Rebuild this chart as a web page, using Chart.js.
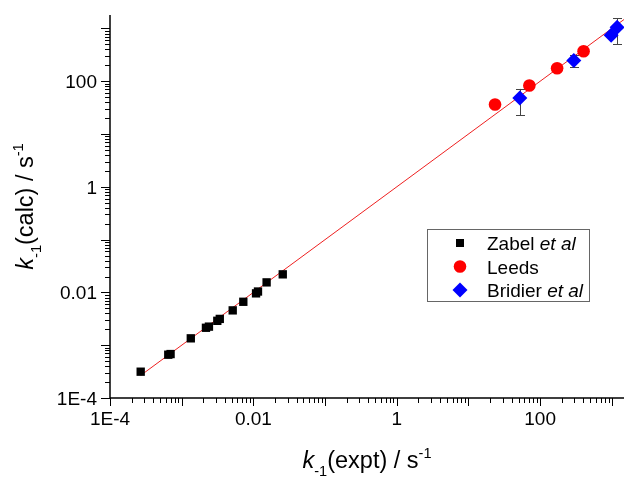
<!DOCTYPE html>
<html lang="en">
<head>
<meta charset="UTF-8">
<title>k-1 calc vs expt</title>
<script src="https://cdn.jsdelivr.net/npm/chart.js"></script>
<style>
  html, body { margin: 0; padding: 0; background: #fff; }
  #caixa { width: 624px; height: 477px; }
</style>
</head>
<body>
<div id="caixa"><canvas id="grafico" width="624" height="477"></canvas></div>

<script>
  // Zabel et al
  const zabelX = [2.68e-4, 6.50e-4, 7.0e-4, 1.34e-3, 2.18e-3, 2.40e-3, 3.14e-3, 3.40e-3, 5.15e-3, 7.24e-3, 0.0109, 0.0116, 0.0153, 0.0257];
  const zabelY = [3.15e-4, 6.61e-4, 6.8e-4, 1.35e-3, 2.14e-3, 2.25e-3, 2.90e-3, 3.15e-3, 4.57e-3, 6.65e-3, 9.60e-3, 0.0104, 0.0155, 0.0220];

  // Leeds
  const leedsX = [23.5, 70.8, 172.6, 404];
  const leedsY = [36.2, 83.0, 176.3, 370];

  // Bridier et al, with error bars
  const bridierX = [52.1, 295, 978, 1186];
  const bridierY = [48.3, 247, 743, 1052];
  const bridierLo = [22.8, 187, 743, 502];
  const bridierHi = [71.6, 320, 743, 1560];

  // y = x
  const fitX = [2.68e-4, 1800];

  const xMin = 1e-4, xMax = 1480;
  const yMin = 1e-4, yMax = 1800;

  const xTickValues = [1e-4, 1e-2, 1, 100];
  const xTickLabels = ['1E-4', '0.01', '1', '100'];
  const yTickValues = [1e-4, 1e-2, 1, 100];
  const yTickLabels = ['1E-4', '0.01', '1', '100'];

  const fonte = '"Liberation Sans", Arial, sans-serif';

  function pontos(xs, ys) {
    return xs.map((x, i) => ({ x: x, y: ys[i] }));
  }

  // text with italic / subscript / superscript pieces
  function medir(ctx, partes, tam) {
    let w = 0;
    partes.forEach(p => {
      const t = p.sub || p.sup ? tam * 0.62 : tam;
      ctx.font = (p.it ? 'italic ' : '') + t + 'px ' + fonte;
      w += ctx.measureText(p.t).width;
    });
    return w;
  }

  function escrever(ctx, partes, x, y, tam) {
    let px = x;
    ctx.textAlign = 'left';
    ctx.textBaseline = 'alphabetic';
    partes.forEach(p => {
      const t = p.sub || p.sup ? tam * 0.62 : tam;
      ctx.font = (p.it ? 'italic ' : '') + t + 'px ' + fonte;
      let dy = 0;
      if (p.sub) dy = tam * 0.32;
      if (p.sup) dy = -tam * 0.42;
      ctx.fillText(p.t, px, y + dy);
      px += ctx.measureText(p.t).width;
    });
  }

  function marcador(ctx, estilo, x, y, cor) {
    ctx.fillStyle = cor;
    ctx.beginPath();
    if (estilo === 'rect') {
      ctx.rect(x - 4, y - 4, 8, 8);
    } else if (estilo === 'circle') {
      ctx.arc(x, y, 6.3, 0, Math.PI * 2);
    } else {
      ctx.moveTo(x - 7.5, y);
      ctx.lineTo(x, y - 7.5);
      ctx.lineTo(x + 7.5, y);
      ctx.lineTo(x, y + 7.5);
      ctx.closePath();
    }
    ctx.fill();
  }

  const desenho = {
    id: 'desenho',
    beforeDatasetsDraw(chart) {
      const ctx = chart.ctx;
      const sx = chart.scales.x, sy = chart.scales.y;
      ctx.save();
      ctx.strokeStyle = '#444';
      ctx.lineWidth = 1;
      for (let i = 0; i < bridierX.length; i++) {
        if (bridierLo[i] === bridierHi[i]) continue;
        const x = Math.round(sx.getPixelForValue(bridierX[i])) + 0.5;
        const y1 = sy.getPixelForValue(bridierLo[i]);
        const y2 = sy.getPixelForValue(bridierHi[i]);
        ctx.beginPath();
        ctx.moveTo(x, y1); ctx.lineTo(x, y2);
        ctx.moveTo(x - 4.5, Math.round(y1) + 0.5); ctx.lineTo(x + 4.5, Math.round(y1) + 0.5);
        ctx.moveTo(x - 4.5, Math.round(y2) + 0.5); ctx.lineTo(x + 4.5, Math.round(y2) + 0.5);
        ctx.stroke();
      }
      ctx.restore();
    },
    afterDraw(chart) {
      const ctx = chart.ctx;
      const a = chart.chartArea;
      const sx = chart.scales.x, sy = chart.scales.y;
      ctx.save();

      // axis lines
      ctx.strokeStyle = '#000';
      ctx.lineWidth = 1.5;
      ctx.beginPath();
      ctx.moveTo(a.left, a.top); ctx.lineTo(a.left, a.bottom);
      ctx.moveTo(a.left, a.bottom); ctx.lineTo(a.right, a.bottom);
      ctx.stroke();

      // ticks, major every decade, minor 2..9
      ctx.lineWidth = 1;
      ctx.beginPath();
      for (let d = -4; d <= 3; d++) {
        for (let k = 1; k <= 9; k++) {
          const v = k * Math.pow(10, d);
          const len = k === 1 ? 8 : 5;
          if (v <= xMax) {
            const x = Math.round(sx.getPixelForValue(v)) + 0.5;
            ctx.moveTo(x, a.bottom); ctx.lineTo(x, a.bottom + len);
          }
          if (v <= yMax) {
            const y = Math.round(sy.getPixelForValue(v)) + 0.5;
            ctx.moveTo(a.left, y); ctx.lineTo(a.left - (k === 1 ? 9 : 5), y);
          }
        }
      }
      ctx.stroke();

      // tick labels
      ctx.fillStyle = '#000';
      ctx.font = '19px ' + fonte;
      ctx.textBaseline = 'alphabetic';
      ctx.textAlign = 'center';
      xTickValues.forEach((v, i) => {
        ctx.fillText(xTickLabels[i], sx.getPixelForValue(v), 425);
      });
      ctx.textAlign = 'right';
      yTickValues.forEach((v, i) => {
        ctx.fillText(yTickLabels[i], 97, sy.getPixelForValue(v) + 7);
      });

      // axis titles
      const tam = 23.5;
      const tituloX = [{ t: 'k', it: true }, { t: '-1', sub: true }, { t: '(expt) / s' }, { t: '-1', sup: true }];
      const tituloY = [{ t: 'k', it: true }, { t: '-1', sub: true }, { t: '(calc) / s' }, { t: '-1', sup: true }];
      const wx = medir(ctx, tituloX, tam);
      escrever(ctx, tituloX, (a.left + a.right) / 2 - wx / 2, 468, tam);
      const wy = medir(ctx, tituloY, tam);
      ctx.save();
      ctx.translate(33, (a.top + a.bottom) / 2);
      ctx.rotate(-Math.PI / 2);
      escrever(ctx, tituloY, -wy / 2, 0, tam);
      ctx.restore();

      // legend
      ctx.fillStyle = '#fff';
      ctx.fillRect(427, 229, 162, 72);
      ctx.strokeStyle = '#666';
      ctx.lineWidth = 1;
      ctx.strokeRect(427.5, 229.5, 162, 72);
      const linhas = [
        { estilo: 'rect', cor: '#000', texto: [{ t: 'Zabel ' }, { t: 'et al', it: true }] },
        { estilo: 'circle', cor: '#ff0000', texto: [{ t: 'Leeds' }] },
        { estilo: 'rectRot', cor: '#0000ff', texto: [{ t: 'Bridier ' }, { t: 'et al', it: true }] }
      ];
      linhas.forEach((l, i) => {
        const y = 243 + i * 23.5;
        marcador(ctx, l.estilo, 460, y, l.cor);
        ctx.fillStyle = '#000';
        escrever(ctx, l.texto, 487, y + 7, 19);
      });

      ctx.restore();
    }
  };

  const config = {
    type: 'scatter',
    data: {
      datasets: [
        {
          label: 'Zabel et al',
          data: pontos(zabelX, zabelY),
          pointStyle: 'rect',
          pointRadius: 5.9,
          backgroundColor: '#000',
          borderColor: '#000',
          borderWidth: 0,
          order: 1
        },
        {
          label: 'Leeds',
          data: pontos(leedsX, leedsY),
          pointStyle: 'circle',
          pointRadius: 6.3,
          backgroundColor: '#ff0000',
          borderColor: '#ff0000',
          borderWidth: 0,
          order: 2
        },
        {
          label: 'Bridier et al',
          data: pontos(bridierX, bridierY),
          pointStyle: 'rectRot',
          pointRadius: 7.5,
          backgroundColor: '#0000ff',
          borderColor: '#0000ff',
          borderWidth: 0,
          order: 0
        },
        {
          label: 'fit',
          data: pontos(fitX, fitX),
          showLine: true,
          pointRadius: 0,
          borderColor: '#ee2020',
          borderWidth: 1,
          fill: false,
          order: 10
        }
      ]
    },
    options: {
      responsive: false,
      devicePixelRatio: 1,
      animation: false,
      layout: { autoPadding: false, padding: { top: 15, right: 0, bottom: 0, left: 0 } },
      plugins: {
        legend: { display: false },
        tooltip: { enabled: false }
      },
      scales: {
        x: {
          type: 'logarithmic',
          min: xMin,
          max: xMax,
          grid: { display: false },
          border: { display: false },
          ticks: { display: false },
          afterFit: s => { s.height = 79; }
        },
        y: {
          type: 'logarithmic',
          min: yMin,
          max: yMax,
          grid: { display: false },
          border: { display: false },
          ticks: { display: false },
          afterFit: s => { s.width = 110; }
        }
      }
    },
    plugins: [desenho]
  };

  let ctx = document.getElementById('grafico').getContext('2d');
  let myChart = new Chart(ctx, config);
</script>
</body>
</html>
